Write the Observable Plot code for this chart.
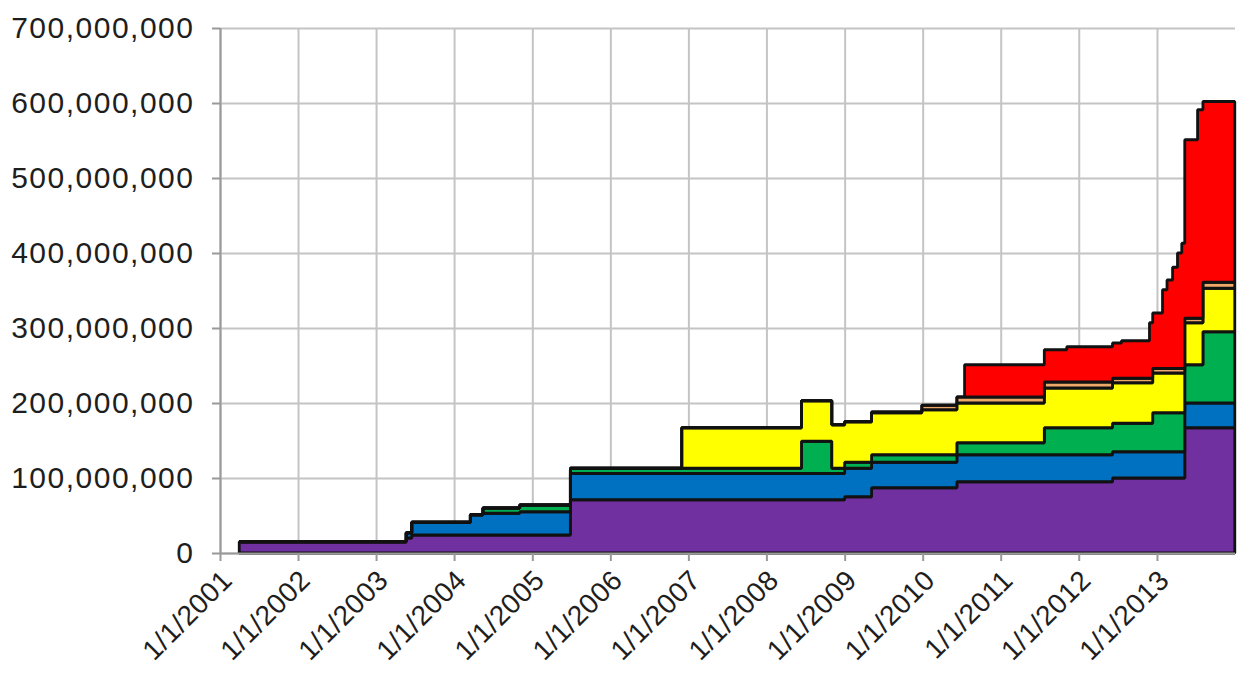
<!DOCTYPE html>
<html>
<head>
<meta charset="utf-8">
<script src="https://cdn.jsdelivr.net/npm/d3@7"></script>
<script src="https://cdn.jsdelivr.net/npm/@observablehq/plot@0.6"></script>
<style>
  html, body { margin: 0; padding: 0; background: #fff; }
  #chart svg { display: block; }
</style>
</head>
<body>
<div id="chart"></div>
<script>
// Step breakpoints (start of each step)
const dates = ["2001-04-01","2003-05-22","2003-06-17","2004-03-17","2004-05-15","2004-11-03","2005-06-28","2006-12-01","2008-06-13","2008-11-02","2009-01-01","2009-05-07","2009-12-28","2010-06-10","2010-07-16","2011-07-24","2011-11-06","2012-06-07","2012-07-19","2012-11-27","2012-12-12","2013-01-27","2013-02-17","2013-03-15","2013-04-07","2013-04-27","2013-05-11","2013-07-10","2013-08-04","2013-12-31"];
// Series values, millions (stacked bottom to top)
const purple = [15,20,24,24,24,24,71,71,71,71,75,87,87,95,95,95,95,100,100,100,100,100,100,100,100,100,167,167,167,167];
const blue   = [0,7,17,27,29,31,35,35,35,35,38,34,34,36,36,36,36,35,35,35,35,35,35,35,35,35,33,33,33,33];
const green  = [0,0,0,0,7,9,7,7,43,7,8,10,10,16,16,36,36,38,38,38,52,52,52,52,52,52,51,51,95,95];
const yellow = [0,0,0,0,0,0,0,54,54,58,54,56,60,53,53,53,53,54,54,54,53,53,53,53,53,53,56,56,58,58];
const orange = [0,0,0,0,0,0,0,0,0,0,0,1,6,8,8,8,8,6,6,6,6,6,6,6,6,6,6,6,8,8];
const red    = [0,0,0,0,0,0,0,0,0,0,0,0,0,0,43,43,47,47,50,74,74,105,118,135,154,167,238,278,241,241];

const seriesNames = ["Series 1","Series 2","Series 3","Series 4","Series 5","Series 6"];
const seriesColors = ["#7030A0","#0070C0","#00B050","#FFFF00","#F0A868","#FF0000"];
const seriesValues = [purple, blue, green, yellow, orange, red];

const xTickYears = [2001,2002,2003,2004,2005,2006,2007,2008,2009,2010,2011,2012,2013];
const yTicks = [0,100e6,200e6,300e6,400e6,500e6,600e6,700e6];

const data = [];
seriesNames.forEach((name, si) => {
  dates.forEach((d, i) => {
    data.push({date: new Date(d + "T00:00:00Z"), series: name, value: seriesValues[si][i] * 1e6});
  });
});

const xTicks = xTickYears.map(y => new Date(Date.UTC(y, 0, 1)));
const fmt = d3.format(",");

const chart = Plot.plot({
  width: 1240,
  height: 673,
  marginLeft: 220,
  marginRight: 5,
  marginTop: 28,
  marginBottom: 120,
  style: {fontFamily: "'Liberation Sans', Arial, sans-serif", color: "#1e1e1e", background: "#fff"},
  x: {type: "utc", domain: [new Date(Date.UTC(2001,0,1)), new Date(Date.UTC(2014,0,1))]},
  y: {domain: [0, 700e6]},
  color: {type: "ordinal", domain: seriesNames, range: seriesColors},
  marks: [
    Plot.gridX(xTicks, {stroke: "#c4c4c4", strokeOpacity: 1, strokeWidth: 2}),
    Plot.gridY(yTicks, {stroke: "#c4c4c4", strokeOpacity: 1, strokeWidth: 2}),
    Plot.areaY(data, {x: "date", y: "value", z: "series", fill: "series", curve: "step-after",
      stroke: "#111", strokeWidth: 2.8, strokeLinejoin: "miter", order: seriesNames}),
    Plot.ruleX([new Date(Date.UTC(2001,0,1))], {stroke: "#999", strokeWidth: 2}),
    Plot.ruleY([0], {stroke: "#999", strokeWidth: 2}),
    Plot.axisY(yTicks, {tickFormat: d => fmt(d), tickSize: 8, tickPadding: 18, fontSize: 30, stroke: "#999", strokeWidth: 2, label: null}),
    Plot.axisX(xTicks, {tickFormat: () => "", tickSize: 8, stroke: "#999", strokeWidth: 2, label: null}),
    Plot.axisX(xTicks, {tickFormat: d => `1/1/${d.getUTCFullYear()}`, tickRotate: -45, tickSize: 0, tickPadding: 22, dx: 7, fontSize: 28, label: null})
  ]
});
d3.select(chart).selectAll('g[aria-label="y-axis tick label"] text').style("letter-spacing", "1.5px");
d3.select(chart).selectAll('g[aria-label="x-axis tick label"] text').style("letter-spacing", "0.5px");
document.getElementById("chart").appendChild(chart);
</script>
</body>
</html>
